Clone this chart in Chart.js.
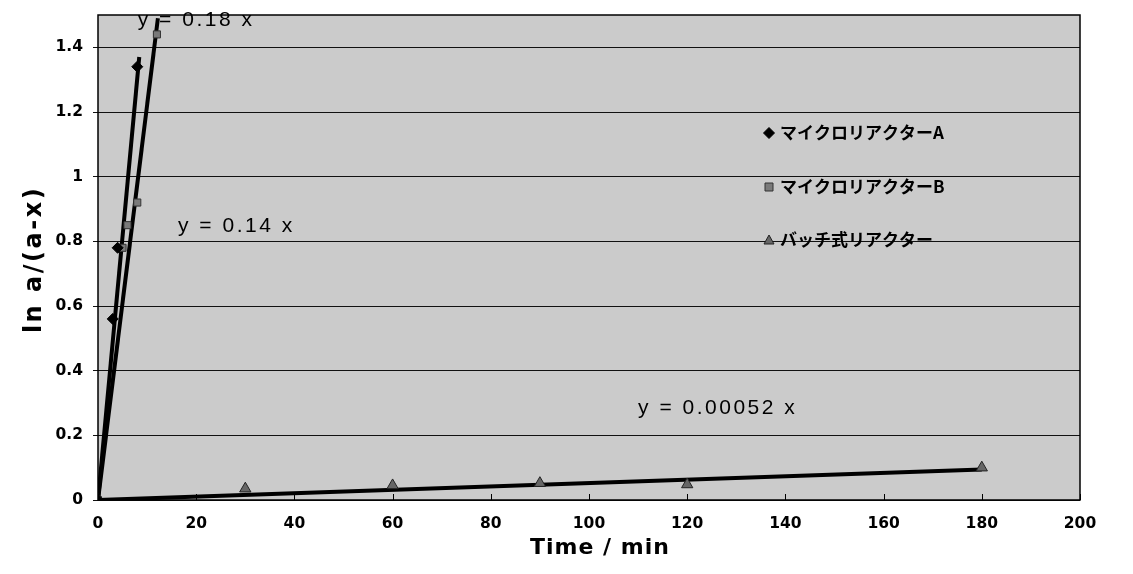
<!DOCTYPE html>
<html>
<head>
<meta charset="utf-8">
<script src="https://cdn.jsdelivr.net/npm/chart.js@4/dist/chart.umd.min.js"></script>
<style>
  html, body { margin: 0; padding: 0; background: #fff; }
  #wrap { width: 1133px; height: 574px; }
</style>
</head>
<body>
<div id="wrap"><canvas id="c" width="1133" height="574"></canvas></div>
<script>
// ---- data ----
const seriesNames = ['マイクロリアクターA', 'マイクロリアクターB', 'バッチ式リアクター'];
const microA_x = [0, 3, 4, 8];
const microA_y = [0, 0.56, 0.78, 1.34];
const microB_x = [0, 5, 6, 8, 12];
const microB_y = [0, 0.78, 0.85, 0.92, 1.44];
const batch_x = [0, 30, 60, 90, 120, 180];
const batch_y = [0, 0.035, 0.045, 0.052, 0.048, 0.10];
// trend lines (end points as drawn)
const trendA_x = [0, 8.4];
const trendA_y = [0, 1.37];
const trendB_x = [0, 12.2];
const trendB_y = [0, 1.49];
const trendC_x = [0, 180];
const trendC_y = [0, 0.094];
// equation labels and where they sit (data coordinates)
const eqLabels = ['y = 0.18 x', 'y = 0.14 x', 'y = 0.00052 x'];
const eqX = [8.1, 16.3, 110];
const eqY = [1.484, 0.848, 0.283];
// axis ticks and titles
const xTicks = [0, 20, 40, 60, 80, 100, 120, 140, 160, 180, 200];
const yTicks = [0, 0.2, 0.4, 0.6, 0.8, 1, 1.2, 1.4];
const xTitle = 'Time / min';
const yTitle = 'ln a/(a-x)';

const pts = (xs, ys) => xs.map((x, i) => ({ x: x, y: ys[i] }));
const TICK_FONT = { family: '"DejaVu Sans", sans-serif', size: 15.5, weight: 'bold' };

const plotBg = {
  id: 'plotBg',
  beforeDraw(chart) {
    const { ctx, chartArea: a } = chart;
    ctx.save();
    ctx.fillStyle = '#cbcbcb';
    ctx.fillRect(a.left, a.top, a.right - a.left, a.bottom - a.top);
    ctx.restore();
  },
  afterDraw(chart) {
    const { ctx, chartArea: a } = chart;
    const xs = chart.scales.x;
    ctx.save();
    ctx.strokeStyle = '#000';
    ctx.lineWidth = 1.5;
    ctx.strokeRect(a.left, a.top, a.right - a.left, a.bottom - a.top);
    // inside tick marks on x axis
    ctx.lineWidth = 1;
    xs.ticks.forEach(t => {
      const px = Math.round(xs.getPixelForValue(t.value)) + 0.5;
      ctx.beginPath();
      ctx.moveTo(px, a.bottom);
      ctx.lineTo(px, a.bottom - 6);
      ctx.stroke();
    });
    // axis titles
    ctx.fillStyle = '#000';
    ctx.textAlign = 'center';
    ctx.textBaseline = 'middle';
    ctx.font = 'bold 22px "DejaVu Sans", sans-serif';
    ctx.letterSpacing = '1px';
    ctx.fillText(xTitle, (a.left + a.right) / 2 + 11, 548);
    ctx.save();
    ctx.translate(35, (a.top + a.bottom) / 2 + 2);
    ctx.rotate(-Math.PI / 2);
    ctx.font = 'bold 24px "DejaVu Sans", sans-serif';
    ctx.letterSpacing = '2.5px';
    ctx.fillText(yTitle, 0, 0);
    ctx.restore();
    ctx.restore();
  }
};

const eqPlugin = {
  id: 'eqPlugin',
  beforeDatasetsDraw(chart) {
    const { ctx } = chart;
    const xs = chart.scales.x, ys = chart.scales.y;
    ctx.save();
    ctx.fillStyle = '#000';
    ctx.font = '21px "Liberation Sans", Arial, sans-serif';
    ctx.letterSpacing = '2.5px';
    ctx.textAlign = 'left';
    ctx.textBaseline = 'middle';
    eqLabels.forEach((s, i) => {
      ctx.fillText(s, xs.getPixelForValue(eqX[i]), ys.getPixelForValue(eqY[i]));
    });
    ctx.restore();
  }
};

function drawMarker(ctx, style, x, y, fill, stroke) {
  ctx.save();
  ctx.fillStyle = fill;
  ctx.strokeStyle = stroke;
  ctx.lineWidth = 1;
  ctx.beginPath();
  if (style === 'diamond') {
    const r = 5.5;
    ctx.moveTo(x, y - r); ctx.lineTo(x + r, y); ctx.lineTo(x, y + r); ctx.lineTo(x - r, y); ctx.closePath();
  } else if (style === 'square') {
    ctx.rect(x - 4, y - 4, 8, 8);
  } else {
    ctx.moveTo(x, y - 5); ctx.lineTo(x + 5, y + 4); ctx.lineTo(x - 5, y + 4); ctx.closePath();
  }
  ctx.fill();
  ctx.stroke();
  ctx.restore();
}

const legendPlugin = {
  id: 'insideLegend',
  afterDatasetsDraw(chart) {
    const { ctx } = chart;
    const styles = ['diamond', 'square', 'triangle'];
    const fills = ['#000', '#7a7a7a', '#666'];
    const strokes = ['#000', '#333', '#222'];
    const rowsY = [133, 187, 240];
    ctx.save();
    ctx.font = 'bold 17px "Noto Sans CJK JP", sans-serif';
    ctx.fillStyle = '#000';
    ctx.textBaseline = 'middle';
    ctx.textAlign = 'left';
    seriesNames.forEach((n, i) => {
      drawMarker(ctx, styles[i], 769, rowsY[i], fills[i], strokes[i]);
      ctx.fillText(n, 780, rowsY[i]);
    });
    ctx.restore();
  }
};

const lineDs = (xs, ys) => ({
  type: 'line', data: pts(xs, ys), borderColor: '#000', borderWidth: 4,
  pointRadius: 0, showLine: true, fill: false, order: 2
});

new Chart(document.getElementById('c'), {
  type: 'scatter',
  data: {
    datasets: [
      { label: seriesNames[0], data: pts(microA_x, microA_y), pointStyle: 'rectRot', pointRadius: 5.5,
        backgroundColor: '#000', borderColor: '#000', borderWidth: 1, order: 1 },
      { label: seriesNames[1], data: pts(microB_x, microB_y), pointStyle: 'rect', pointRadius: 5,
        backgroundColor: '#7a7a7a', borderColor: '#333', borderWidth: 1, order: 1 },
      { label: seriesNames[2], data: pts(batch_x, batch_y), pointStyle: 'triangle', pointRadius: 6.5,
        backgroundColor: '#666', borderColor: '#222', borderWidth: 1, order: 1 },
      lineDs(trendA_x, trendA_y),
      lineDs(trendB_x, trendB_y),
      lineDs(trendC_x, trendC_y)
    ]
  },
  options: {
    responsive: false,
    animation: false,
    devicePixelRatio: 1,
    layout: { padding: { left: 0, right: 53, top: 15, bottom: 0 } },
    plugins: { legend: { display: false }, tooltip: { enabled: false } },
    scales: {
      x: {
        type: 'linear', min: 0, max: 200,
        afterBuildTicks(s) { s.ticks = xTicks.map(v => ({ value: v })); },
        afterFit(s) { s.height = 74; s.paddingLeft = 0; s.paddingRight = 0; },
        grid: { display: false, drawTicks: false },
        border: { display: false },
        ticks: { color: '#000', font: TICK_FONT, padding: 15, maxRotation: 0,
          callback: v => String(v) }
      },
      y: {
        type: 'linear', min: 0, max: 1.5,
        afterBuildTicks(s) { s.ticks = yTicks.map(v => ({ value: v })); },
        afterFit(s) { s.width = 98; s.paddingTop = 0; s.paddingBottom = 0; },
        grid: { color: '#111', lineWidth: 1, tickLength: 5 },
        border: { display: false },
        ticks: { color: '#000', font: TICK_FONT, padding: 10, callback: v => String(v) }
      }
    }
  },
  plugins: [plotBg, eqPlugin, legendPlugin]
});
</script>
</body>
</html>
